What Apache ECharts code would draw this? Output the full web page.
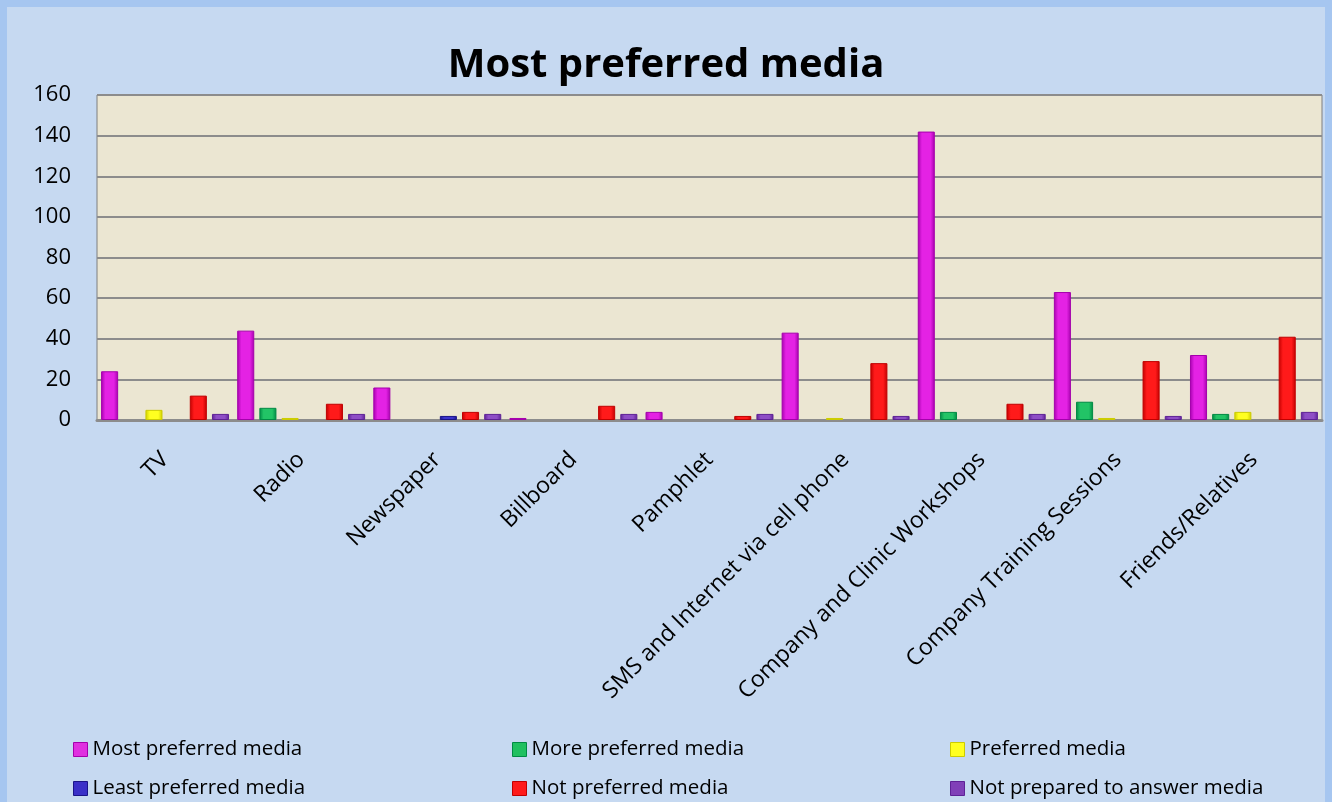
<!DOCTYPE html>
<html>
<head>
<meta charset="utf-8">
<script src="https://cdn.jsdelivr.net/npm/echarts@6/dist/echarts.min.js"></script>
<style>
html,body{margin:0;padding:0;background:#c6d9f1;}
#main{width:1332px;height:802px;}
</style>
</head>
<body>
<div id="main"></div>
<script>
const categories = ["TV","Radio","Newspaper","Billboard","Pamphlet","SMS and Internet via cell phone","Company and Clinic Workshops","Company Training Sessions","Friends/Relatives"];
const mostPreferred   = [24, 44, 16, 1, 4, 43, 142, 63, 32];
const morePreferred   = [0, 6, 0, 0, 0, 0, 4, 9, 3];
const preferred       = [5, 1, 0, 0, 0, 1, 0, 1, 4];
const leastPreferred  = [0, 0, 2, 0, 0, 0, 0, 0, 0];
const notPreferred    = [12, 8, 4, 7, 2, 28, 8, 29, 41];
const notPrepared     = [3, 3, 3, 3, 3, 2, 3, 2, 4];
const yTicks = [0, 20, 40, 60, 80, 100, 120, 140, 160];

const seriesDefs = [
  {name:"Most preferred media", data:mostPreferred, c1:"#e422e4", c2:"#a400ac", c3:"#e030e0"},
  {name:"More preferred media", data:morePreferred, c1:"#22c466", c2:"#008a44", c3:"#20c060"},
  {name:"Preferred media", data:preferred, c1:"#ffff20", c2:"#cccc00", c3:"#ffff20"},
  {name:"Least preferred media", data:leastPreferred, c1:"#3c34cc", c2:"#1a1488", c3:"#3a30c8"},
  {name:"Not preferred media", data:notPreferred, c1:"#ff1a1a", c2:"#c00000", c3:"#ff1a1a"},
  {name:"Not prepared to answer media", data:notPrepared, c1:"#8e4ec6", c2:"#5e2296", c3:"#8040b8"}
];
const fontFam = "'Open Sans', sans-serif";

function makeLegend(names, left){
  return {
    orient:'vertical', top:739, left:left, padding:0,
    itemWidth:14, itemHeight:14, icon:'rect', itemGap:18,
    textStyle:{fontFamily:fontFam, fontSize:20.5, color:'#000'},
    data:names.map(function(n){
      const s = seriesDefs.find(function(d){return d.name===n;});
      return {name:n, itemStyle:{color:s.c3, borderColor:s.c2, borderWidth:1}};
    })
  };
}

const chart = echarts.init(document.getElementById('main'), null, {renderer:'canvas'});
const option = {
  backgroundColor:'#c6d9f1',
  animation:false,
  title:{
    text:'Most preferred media', left:'center', top:41,
    textStyle:{fontFamily:fontFam, fontSize:40, fontWeight:'bold', color:'#000'}
  },
  graphic:[{
    type:'rect', silent:true,
    shape:{x:3.5,y:3.5,width:1325,height:805},
    style:{fill:null, stroke:'#a6c6f0', lineWidth:7}
  }],
  legend:[
    makeLegend(["Most preferred media","Least preferred media"], 73),
    makeLegend(["More preferred media","Not preferred media"], 512),
    makeLegend(["Preferred media","Not prepared to answer media"], 950)
  ],
  grid:{left:97, right:10, top:95, bottom:382, show:true, backgroundColor:'#ebe6d2', borderColor:'#7f7f7f', borderWidth:1},
  xAxis:{
    type:'category', data:categories,
    axisLine:{show:true, lineStyle:{color:'#8c8c8c', width:3}},
    axisTick:{show:false},
    axisLabel:{rotate:45, margin:36, fontFamily:fontFam, fontSize:23, color:'#000', interval:0}
  },
  yAxis:{
    type:'value', min:0, max:160, interval:20,
    axisLine:{show:false}, axisTick:{show:false},
    axisLabel:{margin:26, fontFamily:fontFam, fontSize:22, color:'#000',
      formatter:function(v){return yTicks.indexOf(v)>=0 ? String(v) : '';}},
    splitLine:{lineStyle:{color:'#8c8c8c', width:2}}
  },
  series: seriesDefs.map(function(s){
    return {
      name:s.name, type:'bar',
      data:s.data.map(function(v){return v===0 ? '-' : v;}),
      barGap:'30%', barCategoryGap:'6%',
      itemStyle:{
        color:new echarts.graphic.LinearGradient(0,0,1,0,[
          {offset:0, color:s.c2},{offset:0.25, color:s.c1},{offset:0.75, color:s.c1},{offset:1, color:s.c2}
        ]),
        borderColor:s.c2, borderWidth:1
      }
    };
  })
};
chart.setOption(option);
</script>
</body>
</html>
